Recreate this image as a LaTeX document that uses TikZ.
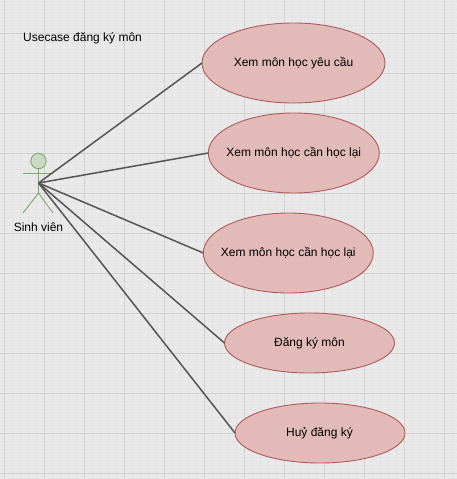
\documentclass[tikz,border=0pt]{standalone}
\usepackage{fontspec}
\setmainfont{Liberation Sans}
\usetikzlibrary{shapes.geometric}
\definecolor{bgc}{HTML}{E9E9E9}
\definecolor{minorc}{HTML}{E3E3E3}
\definecolor{majorc}{HTML}{D2D2D2}
\definecolor{ufill}{HTML}{E2BAB8}
\definecolor{ustroke}{HTML}{AE5A59}
\definecolor{afill}{HTML}{C9D9C3}
\definecolor{astroke}{HTML}{82A868}
\definecolor{linkc}{HTML}{555555}
\tikzset{
  usecase/.style={ellipse,draw=ustroke,fill=ufill,line width=0.9pt,inner xsep=-50pt,inner ysep=0pt,outer sep=0pt,font=\fontsize{12}{14}\selectfont,text=black},
  link/.style={draw=linkc,line width=1.5pt},
  actorline/.style={draw=astroke,line width=0.9pt},
  plain/.style={inner sep=0pt,font=\fontsize{12}{14}\selectfont,text=black}
}
\begin{document}
\begin{tikzpicture}[x=1pt,y=-1pt]
\useasboundingbox (0,0) rectangle (457,479);
\fill[bgc] (0,0) rectangle (457,479);
% grid
\foreach \i in {0,...,57} \draw[minorc,line width=0.8pt] ({4.5+8*\i},0) -- ({4.5+8*\i},479);
\foreach \i in {0,...,60} \draw[minorc,line width=0.8pt] (0,{1+8*\i}) -- (457,{1+8*\i});
\foreach \i in {0,...,11} \draw[majorc,line width=0.8pt] ({4.5+40*\i},0) -- ({4.5+40*\i},479);
\foreach \i in {0,...,12} \draw[majorc,line width=0.8pt] (0,{33+40*\i-40}) -- (457,{33+40*\i-40});
% title
\node[plain,anchor=west] (title) at (23,38) {Usecase đăng ký môn};
% actor
\draw[actorline,fill=afill] (38.5,161) circle (7.7);
\draw[actorline] (38.5,169) -- (38.5,193);
\draw[actorline] (23,173.5) -- (53,173.5);
\draw[actorline] (23,213) -- (38.5,193) -- (53,213);
\coordinate (actor) at (38.5,183);
\node[plain] (lbl) at (38.5,227.5) {Sinh viên};
% use cases
\node[usecase,minimum width=183pt,minimum height=80pt] (u1) at (293.5,63) {\raisebox{-1pt}{Xem môn học yêu cầu}};
\node[usecase,minimum width=171pt,minimum height=80pt] (u2) at (293.8,153) {\raisebox{-1pt}{Xem môn học cần học lại}};
\node[usecase,minimum width=170pt,minimum height=80pt] (u3) at (288.3,253) {\raisebox{-1pt}{Xem môn học cần học lại}};
\node[usecase,minimum width=170pt,minimum height=60pt] (u4) at (309.5,343) {\raisebox{-1pt}{Đăng ký môn}};
\node[usecase,minimum width=170pt,minimum height=60pt] (u5) at (320,433) {\raisebox{-1pt}{\hspace{-1pt}Huỷ đăng ký}};
% links
\foreach \n in {u1,u2,u3,u4,u5} \draw[link] (actor) -- (\n.west);
\end{tikzpicture}
\end{document}
